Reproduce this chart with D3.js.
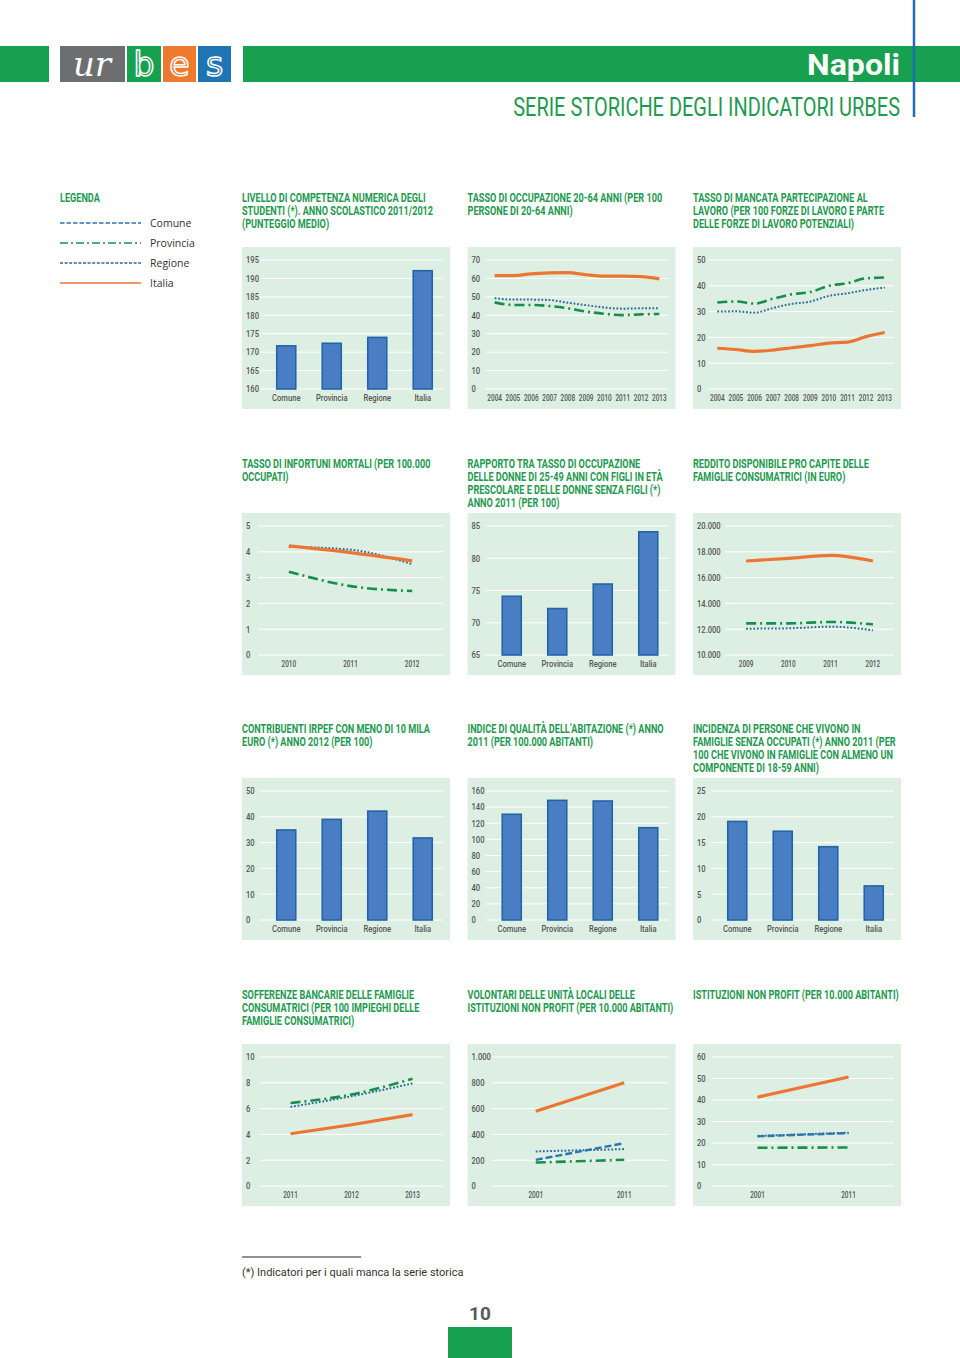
<!DOCTYPE html>
<html><head><meta charset="utf-8">
<script src="https://cdn.jsdelivr.net/npm/d3@7"></script>
<style>
html,body{margin:0;padding:0;background:#fff;}
svg{display:block;}
</style></head>
<body>
<svg id="page" width="960" height="1358"></svg>
<script>
// ---------------- DATA ----------------
const barCategories = ["Comune","Provincia","Regione","Italia"];

const titleCompetenza = ["LIVELLO DI COMPETENZA NUMERICA DEGLI","STUDENTI (*). ANNO SCOLASTICO 2011/2012","(PUNTEGGIO MEDIO)"];
const competenzaValues = [171.7, 172.4, 174.0, 192.1];
const competenzaTicks = [160,165,170,175,180,185,190,195];

const titleOccupazione = ["TASSO DI OCCUPAZIONE 20-64 ANNI (PER 100","PERSONE DI 20-64 ANNI)"];
const occupazioneYears = ["2004","2005","2006","2007","2008","2009","2010","2011","2012","2013"];
const occupazioneProvincia = [47.0, 45.6, 45.6, 45.0, 43.8, 42.0, 40.8, 40.1, 40.5, 40.7];
const occupazioneRegione = [49.3, 48.5, 48.5, 48.3, 46.8, 45.5, 44.2, 43.6, 43.8, 43.8];
const occupazioneItalia = [61.5, 61.5, 62.5, 63.0, 63.2, 62.0, 61.2, 61.2, 61.0, 59.8];
const occupazioneTicks = [0,10,20,30,40,50,60,70];

const titleMancata = ["TASSO DI MANCATA PARTECIPAZIONE AL","LAVORO (PER 100 FORZE DI LAVORO E PARTE","DELLE FORZE DI LAVORO POTENZIALI)"];
const mancataYears = ["2004","2005","2006","2007","2008","2009","2010","2011","2012","2013"];
const mancataProvincia = [33.5, 33.9, 33.1, 35.0, 36.7, 37.6, 40.0, 41.0, 42.9, 43.2];
const mancataRegione = [30.0, 30.1, 29.6, 31.4, 33.0, 33.9, 36.1, 37.1, 38.4, 39.3];
const mancataItalia = [15.8, 15.3, 14.6, 15.1, 16.0, 16.8, 17.8, 18.2, 20.3, 21.9];
const mancataTicks = [0,10,20,30,40,50];

const titleInfortuni = ["TASSO DI INFORTUNI MORTALI (PER 100.000","OCCUPATI)"];
const infortuniYears = ["2010","2011","2012"];
const infortuniProvincia = [3.23, 2.67, 2.48];
const infortuniRegione = [4.2, 4.08, 3.52];
const infortuniItalia = [4.23, 3.97, 3.65];
const infortuniTicks = [0,1,2,3,4,5];

const titleRapporto = ["RAPPORTO TRA TASSO DI OCCUPAZIONE","DELLE DONNE DI 25-49 ANNI CON FIGLI IN ETÀ","PRESCOLARE E DELLE DONNE SENZA FIGLI (*)","ANNO 2011 (PER 100)"];
const rapportoValues = [74.1, 72.2, 76.0, 84.1];
const rapportoTicks = [65,70,75,80,85];

const titleReddito = ["REDDITO DISPONIBILE PRO CAPITE DELLE","FAMIGLIE CONSUMATRICI (IN EURO)"];
const redditoYears = ["2009","2010","2011","2012"];
const redditoProvincia = [12455, 12455, 12558, 12377];
const redditoRegione = [12041, 12067, 12196, 11912];
const redditoItalia = [17287, 17494, 17726, 17287];
const redditoTicks = [10000,12000,14000,16000,18000,20000];

const titleContribuenti = ["CONTRIBUENTI IRPEF CON MENO DI 10 MILA","EURO (*) ANNO 2012 (PER 100)"];
const contribuentiValues = [34.9, 39.0, 42.2, 31.8];
const contribuentiTicks = [0,10,20,30,40,50];

const titleIndice = ["INDICE DI QUALITÀ DELL’ABITAZIONE (*) ANNO","2011 (PER 100.000 ABITANTI)"];
const indiceValues = [131.1, 148.4, 147.6, 114.5];
const indiceTicks = [0,20,40,60,80,100,120,140,160];

const titleIncidenza = ["INCIDENZA DI PERSONE CHE VIVONO IN","FAMIGLIE SENZA OCCUPATI (*) ANNO 2011 (PER","100 CHE VIVONO IN FAMIGLIE CON ALMENO UN","COMPONENTE DI 18-59 ANNI)"];
const incidenzaValues = [19.1, 17.2, 14.2, 6.6];
const incidenzaTicks = [0,5,10,15,20,25];

const titleSofferenze = ["SOFFERENZE BANCARIE DELLE FAMIGLIE","CONSUMATRICI (PER 100 IMPIEGHI DELLE","FAMIGLIE CONSUMATRICI)"];
const sofferenzeYears = ["2011","2012","2013"];
const sofferenzeProvincia = [6.44, 7.09, 8.31];
const sofferenzeRegione = [6.13, 6.96, 7.95];
const sofferenzeItalia = [4.05, 4.75, 5.53];
const sofferenzeTicks = [0,2,4,6,8,10];

const titleVolontari = ["VOLONTARI DELLE UNITÀ LOCALI DELLE","ISTITUZIONI NON PROFIT (PER 10.000 ABITANTI)"];
const volontariYears = ["2001","2011"];
const volontariComune = [203, 332];
const volontariProvincia = [182, 203];
const volontariRegione = [268, 286];
const volontariItalia = [579, 800];
const volontariTicks = [0,200,400,600,800,1000];

const titleIstituzioni = ["ISTITUZIONI NON PROFIT (PER 10.000 ABITANTI)"];
const istituzioniYears = ["2001","2011"];
const istituzioniComune = [23.1, 24.6];
const istituzioniProvincia = [17.8, 17.9];
const istituzioniRegione = [23.3, 24.8];
const istituzioniItalia = [41.3, 50.7];
const istituzioniTicks = [0,10,20,30,40,50,60];

const legendLabels = ["Comune","Provincia","Regione","Italia"];

// ---------------- STYLE ----------------
const GREEN = "#17a04f";
const TGREEN = "#1e9a50";
const PANEL = "#dcefe2";
const styles = {
  Comune:   {stroke:"#2b74b2", width:2.4, dash:"7,3"},
  Provincia:{stroke:"#178f4c", width:2.6, dash:"10,4,2,4"},
  Regione:  {stroke:"#2a6a9e", width:2.0, dash:"1.8,1.8"},
  Italia:   {stroke:"#ec7631", width:3.2, dash:null}
};
const legendStyles = {
  Comune:   {stroke:"#2b74b2", width:1.6, dash:"4.5,2"},
  Provincia:{stroke:"#178f4c", width:1.6, dash:"8,3,2,3"},
  Regione:  {stroke:"#2a6a9e", width:1.4, dash:"3,1.6"},
  Italia:   {stroke:"#ec7631", width:1.6, dash:null}
};
const COND = "Roboto, 'Liberation Sans', sans-serif";

const loc = d3.formatLocale({decimal:",", thousands:".", grouping:[3], currency:["","€"]});
const fmt = loc.format(",");

const svg = d3.select("#page");

function ctext(g, x, y, txt, opts) {
  return g.append("text")
    .attr("transform", `translate(${x},${y}) scale(${opts.sx||1},1)`)
    .attr("font-family", opts.family || COND)
    .attr("font-size", opts.size)
    .attr("font-weight", opts.weight || 400)
    .attr("fill", opts.fill)
    .attr("text-anchor", opts.anchor || "start")
    .text(txt);
}

// ---------------- HEADER ----------------
const head = svg.append("g");
head.append("rect").attr("x",0).attr("y",46).attr("width",49).attr("height",36).attr("fill",GREEN);
head.append("rect").attr("x",243).attr("y",46).attr("width",717).attr("height",36).attr("fill",GREEN);
head.append("rect").attr("x",60).attr("y",46).attr("width",65).attr("height",36).attr("fill","#6d6e70");
head.append("rect").attr("x",127).attr("y",46).attr("width",34).attr("height",36).attr("fill",GREEN);
head.append("rect").attr("x",163).attr("y",46).attr("width",33).attr("height",36).attr("fill","#ef7a2e");
head.append("rect").attr("x",198).attr("y",46).attr("width",33).attr("height",36).attr("fill","#1f75b3");
head.append("text").attr("x",92).attr("y",76).attr("text-anchor","middle")
  .attr("font-family","'DejaVu Serif', 'Liberation Serif', serif").attr("font-style","italic")
  .attr("font-size",34).attr("fill","#fff").text("ur");
[["b",144],["e",179.5],["s",214.5]].forEach(([c,x])=>{
  head.append("text").attr("x",x).attr("y",76).attr("text-anchor","middle")
    .attr("font-family","'DejaVu Sans', sans-serif").attr("font-size",33)
    .attr("fill","none").attr("stroke","#fff").attr("stroke-width",1.5).text(c);
});
const napoli = head.append("text").attr("font-family",COND).attr("font-weight",700).attr("font-size",30)
  .attr("fill","#fff").attr("text-anchor","end").text("Napoli");
const nW = napoli.node().getComputedTextLength();
napoli.attr("transform",`translate(900,75) scale(${93/nW},1)`);
const sub = head.append("text").attr("font-family",COND).attr("font-weight",400).attr("font-size",26)
  .attr("fill",TGREEN).attr("text-anchor","end").text("SERIE STORICHE DEGLI INDICATORI URBES");
const sW = sub.node().getComputedTextLength();
sub.attr("transform",`translate(900,116) scale(${387/sW},1)`);
head.append("line").attr("x1",914).attr("x2",914).attr("y1",0).attr("y2",117)
  .attr("stroke","#1f6fb0").attr("stroke-width",2.5);

// ---------------- TITLE SCALE calibration ----------------
const probe = svg.append("text").attr("font-family",COND).attr("font-weight",700).attr("font-size",12.5)
  .text("ISTITUZIONI NON PROFIT (PER 10.000 ABITANTI)");
const TSX = 206 / probe.node().getComputedTextLength();
probe.remove();

// ---------------- LEGEND ----------------
const leg = svg.append("g");
ctext(leg, 60, 202, "LEGENDA", {size:12.5, weight:700, fill:TGREEN, sx:TSX});
const legY = d3.scalePoint().domain(legendLabels).range([223, 283]);
legendLabels.forEach(k=>{
  const s = legendStyles[k];
  leg.append("line").attr("x1",60).attr("x2",141).attr("y1",legY(k)).attr("y2",legY(k))
    .attr("stroke",s.stroke).attr("stroke-width",s.width).attr("stroke-dasharray",s.dash);
  leg.append("text").attr("x",150).attr("y",legY(k)+4).attr("font-family","'Open Sans', sans-serif")
    .attr("font-size",10.5).attr("fill","#333").text(k);
});

// ---------------- CHARTS ----------------
const cols = [242, 467.5, 693];
const rows = [247, 513, 778, 1044];

const charts = [
  {col:0,row:0,title:titleCompetenza,type:"bar",cats:barCategories,values:competenzaValues,ticks:competenzaTicks},
  {col:1,row:0,title:titleOccupazione,type:"line",cats:occupazioneYears,ticks:occupazioneTicks,
    series:{Provincia:occupazioneProvincia,Regione:occupazioneRegione,Italia:occupazioneItalia}},
  {col:2,row:0,title:titleMancata,type:"line",cats:mancataYears,ticks:mancataTicks,gl:15,
    series:{Provincia:mancataProvincia,Regione:mancataRegione,Italia:mancataItalia}},
  {col:0,row:1,title:titleInfortuni,type:"line",cats:infortuniYears,ticks:infortuniTicks,gl:16,
    series:{Provincia:infortuniProvincia,Regione:infortuniRegione,Italia:infortuniItalia}},
  {col:1,row:1,title:titleRapporto,type:"bar",cats:barCategories,values:rapportoValues,ticks:rapportoTicks},
  {col:2,row:1,title:titleReddito,type:"line",cats:redditoYears,ticks:redditoTicks,gl:32,
    series:{Provincia:redditoProvincia,Regione:redditoRegione,Italia:redditoItalia}},
  {col:0,row:2,title:titleContribuenti,type:"bar",cats:barCategories,values:contribuentiValues,ticks:contribuentiTicks},
  {col:1,row:2,title:titleIndice,type:"bar",cats:barCategories,values:indiceValues,ticks:indiceTicks},
  {col:2,row:2,title:titleIncidenza,type:"bar",cats:barCategories,values:incidenzaValues,ticks:incidenzaTicks},
  {col:0,row:3,title:titleSofferenze,type:"line",cats:sofferenzeYears,ticks:sofferenzeTicks,
    series:{Provincia:sofferenzeProvincia,Regione:sofferenzeRegione,Italia:sofferenzeItalia}},
  {col:1,row:3,title:titleVolontari,type:"line",cats:volontariYears,ticks:volontariTicks,gl:24,
    series:{Regione:volontariRegione,Provincia:volontariProvincia,Comune:volontariComune,Italia:volontariItalia}},
  {col:2,row:3,title:titleIstituzioni,type:"line",cats:istituzioniYears,ticks:istituzioniTicks,gl:19,
    series:{Regione:istituzioniRegione,Comune:istituzioniComune,Provincia:istituzioniProvincia,Italia:istituzioniItalia}}
];

const LSX = 0.8;
const YSX = 0.68;
const LSIZE = 9.5;

charts.forEach(c=>{
  const px = cols[c.col], py = rows[c.row];
  const W = 208, H = 162;
  const top = py + 13, bot = py + 142;
  const gL = px + (c.gl || 18), gR = px + 201;
  const g = svg.append("g");

  c.title.forEach((line,i)=>{
    ctext(g, px, py - 45 + i*13, line, {size:12.5, weight:700, fill:TGREEN, sx:TSX});
  });

  g.append("rect").attr("x",px).attr("y",py).attr("width",W).attr("height",H).attr("fill",PANEL);

  const y = d3.scaleLinear().domain(d3.extent(c.ticks)).range([bot, top]);

  g.selectAll("line.grid").data(c.ticks).join("line")
    .attr("x1",gL).attr("x2",gR).attr("y1",d=>y(d)).attr("y2",d=>y(d))
    .attr("stroke","#fff").attr("stroke-width",1);

  c.ticks.forEach(t=>{
    ctext(g, px+4, y(t)+3.3, fmt(t), {size:LSIZE, weight:500, fill:"#555", sx:LSX});
  });

  if (c.type === "bar") {
    const x = d3.scaleBand().domain(c.cats).range([px+21.5, px+203.5]);
    const bw = 19;
    const y0 = y.domain()[0];
    c.cats.forEach((cat,i)=>{
      const cx = x(cat) + x.bandwidth()/2;
      g.append("rect").attr("x",cx-bw/2).attr("y",y(c.values[i]))
        .attr("width",bw).attr("height",y(y0)-y(c.values[i]))
        .attr("fill","#4a7ec4").attr("stroke","#2264a6").attr("stroke-width",1.6);
      ctext(g, cx, bot+12, cat, {size:LSIZE, weight:500, fill:"#555", sx:LSX, anchor:"middle"});
    });
  } else {
    const x = d3.scalePoint().domain(c.cats).range([gL, gR]).padding(0.5);
    c.cats.forEach(cat=>{
      ctext(g, x(cat), bot+12, cat, {size:LSIZE, weight:500, fill:"#555", sx:YSX, anchor:"middle"});
    });
    const order = ["Regione","Provincia","Comune","Italia"].filter(k=>c.series[k]);
    order.forEach(k=>{
      const vals = c.series[k];
      const s = styles[k];
      const line = d3.line().x((d,i)=>x(c.cats[i])).y(d=>y(d)).curve(d3.curveMonotoneX);
      g.append("path").attr("d", line(vals)).attr("fill","none")
        .attr("stroke",s.stroke).attr("stroke-width",s.width)
        .attr("stroke-dasharray",s.dash).attr("stroke-linecap","butt");
    });
  }
});

// ---------------- FOOTER ----------------
const foot = svg.append("g");
foot.append("line").attr("x1",242).attr("x2",361).attr("y1",1257).attr("y2",1257).attr("stroke","#222").attr("stroke-width",1);
foot.append("text").attr("x",242).attr("y",1276).attr("font-family",COND).attr("font-size",11)
  .attr("fill","#333").text("(*) Indicatori per i quali manca la serie storica");
foot.append("text").attr("x",480).attr("y",1320).attr("text-anchor","middle").attr("font-family",COND)
  .attr("font-weight",700).attr("font-size",19).attr("fill","#5a5a5a").text("10");
foot.append("rect").attr("x",448).attr("y",1327).attr("width",64).attr("height",31).attr("fill",GREEN);
</script>
</body></html>
